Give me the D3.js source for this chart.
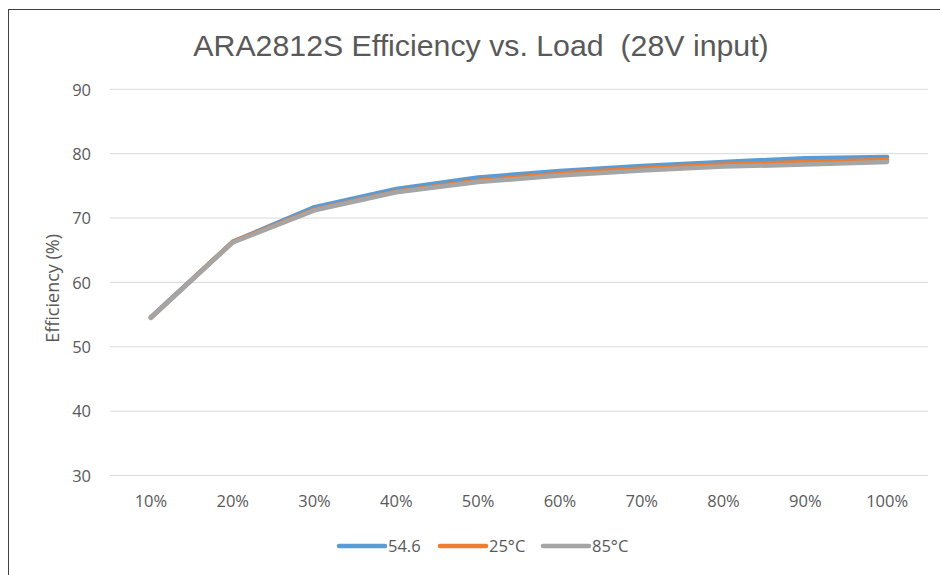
<!DOCTYPE html>
<html><head><meta charset="utf-8">
<script src="https://cdn.jsdelivr.net/npm/d3@7"></script>
<style>body{margin:0;background:#fff}svg{display:block}</style>
</head><body>
<svg id="c" width="940" height="575"></svg>
<script>
const categories = ["10%","20%","30%","40%","50%","60%","70%","80%","90%","100%"];
const s546 = [54.6, 66.3, 71.7, 74.5, 76.3, 77.3, 78.1, 78.7, 79.3, 79.5];
const s25  = [54.5, 66.3, 71.3, 74.1, 75.8, 76.9, 77.7, 78.3, 78.7, 79.0];
const s85  = [54.5, 66.2, 71.2, 74.0, 75.6, 76.6, 77.4, 78.0, 78.3, 78.7];
const seriesNames = ["54.6","25°C","85°C"];
const yTicks = [30,40,50,60,70,80,90];
const titleText = "ARA2812S Efficiency vs. Load  (28V input)";
const yTitle = "Efficiency (%)";

const series = [
  {name: seriesNames[0], values: s546, color: "#5b9bd5"},
  {name: seriesNames[1], values: s25,  color: "#ed7d31"},
  {name: seriesNames[2], values: s85,  color: "#a5a5a5"}
];

const FONT = "'Open Sans', 'Liberation Sans', sans-serif";
const svg = d3.select("#c");
svg.append("rect").attr("x",8.5).attr("y",9.5).attr("width",940).attr("height",580)
  .attr("fill","#fff").attr("stroke","#404040").attr("stroke-width",1);

const L=110, R=928, T=89.3, B=475.5;
const x = d3.scaleBand().domain(categories).range([L,R]);
const y = d3.scaleLinear().domain([30,90]).range([B,T]);

const grid = svg.append("g");
yTicks.forEach(t=>{
  grid.append("line").attr("x1",L).attr("x2",R).attr("y1",y(t)).attr("y2",y(t))
    .attr("stroke","#d9d9d9").attr("stroke-width",1);
});

const yAxis = d3.axisLeft(y).tickValues(yTicks).tickSize(0).tickPadding(0);
const gy = svg.append("g").attr("transform",`translate(${L-19},0)`).call(yAxis);
gy.select(".domain").remove();
gy.selectAll("text").attr("font-family",FONT)
  .attr("font-size",16.5).attr("fill","#595959").attr("dy","0.35em");

const xAxis = d3.axisBottom(x).tickSize(0).tickPadding(0);
const gx = svg.append("g").attr("transform",`translate(0,${B+26})`).call(xAxis);
gx.select(".domain").remove();
gx.selectAll("text").attr("font-family",FONT)
  .attr("font-size",16.5).attr("fill","#595959").attr("y",0).attr("dy","0.35em");

const line = d3.line().x((d,i)=>x(categories[i])+x.bandwidth()/2).y(d=>y(d));
series.forEach(s=>{
  svg.append("path").datum(s.values).attr("d",line).attr("fill","none")
    .attr("stroke",s.color).attr("stroke-width",4.5)
    .attr("stroke-linecap","round").attr("stroke-linejoin","round");
});

svg.append("text").attr("x",481).attr("y",56).attr("text-anchor","middle")
  .attr("xml:space","preserve").style("white-space","pre")
  .attr("font-family","'Liberation Sans', Arial, sans-serif").attr("font-size",30.3)
  .attr("fill","#595959").text(titleText);

svg.append("text").attr("transform",`translate(59,${(T+B)/2+6}) rotate(-90)`)
  .attr("text-anchor","middle").attr("font-family",FONT)
  .attr("font-size",18).attr("fill","#595959").text(yTitle);

const legX = [339, 440, 543];
series.forEach((s,i)=>{
  const g = svg.append("g").attr("transform",`translate(${legX[i]},546)`);
  g.append("line").attr("x1",0).attr("x2",46).attr("y1",0).attr("y2",0)
    .attr("stroke",s.color).attr("stroke-width",4.5).attr("stroke-linecap","round");
  g.append("text").attr("x",49).attr("y",0).attr("dy","0.35em")
    .attr("font-family",FONT).attr("font-size",16.5)
    .attr("fill","#595959").text(s.name);
});
</script>
</body></html>
